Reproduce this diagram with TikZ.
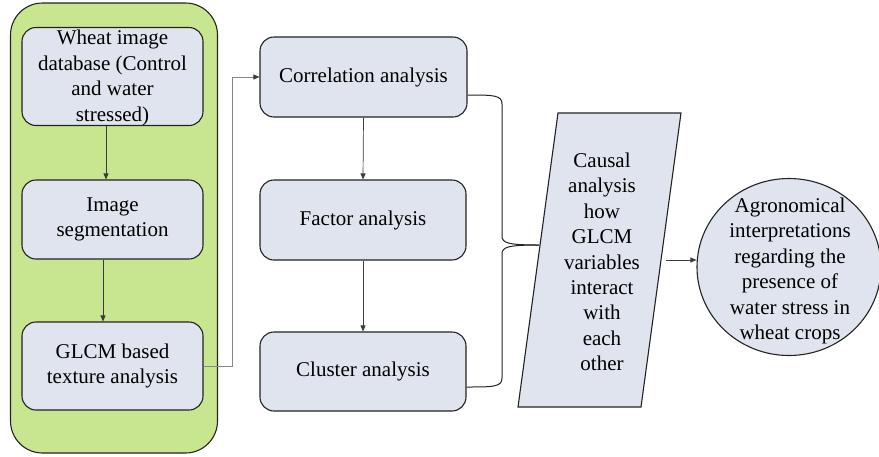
\documentclass[tikz,border=0pt]{standalone}
\usepackage{fontspec}
\setmainfont{Liberation Serif}
\usetikzlibrary{arrows.meta,shapes.geometric,calc}
\definecolor{panelgreen}{RGB}{200,230,143}
\definecolor{boxfill}{RGB}{224,228,238}
\definecolor{edge}{RGB}{35,35,35}
\definecolor{wire}{RGB}{60,60,60}
\definecolor{lightwire}{RGB}{135,135,135}
\begin{document}
\begin{tikzpicture}[x=1pt,y=-1pt,
  txt/.style={align=center, font=\fontsize{21}{25.4}\selectfont, inner sep=0pt},
  stepbox/.style={txt, draw=edge, line width=1.1pt, fill=boxfill, rounded corners=14pt,
                  minimum width=181pt},
  flow/.style={draw=wire, line width=0.7pt, -{Triangle[length=6pt,width=5pt,color=wire]}},
  bracket/.style={draw=edge, line width=1pt},
]
\useasboundingbox (0,0) rectangle (879,456);
\fill[white] (0,0) rectangle (879,456);

% green panel holding the image processing steps
\node[draw=edge, line width=1.1pt, fill=panelgreen, rounded corners=32pt,
      minimum width=207pt, minimum height=450pt, inner sep=0pt] (panel) at (114,228) {};

% image processing steps
\node[stepbox, minimum height=98pt] (db) at (112.5,76.5) {};
\node[txt] (dbtext) at (112.5,78) {Wheat image\\database (Control\\and water\\stressed)};
\node[stepbox, minimum height=79pt] (seg) at (112.5,219.5) {Image\\segmentation};
\node[stepbox, minimum height=88pt] (glcm) at (112.5,366) {GLCM based\\texture analysis};

% statistical analyses
\node[stepbox, minimum width=207pt, minimum height=80pt] (corr) at (363.5,77) {Correlation analysis};
\node[stepbox, minimum width=206pt, minimum height=80pt] (fact) at (363,220) {Factor analysis};
\node[stepbox, minimum width=206pt, minimum height=79pt] (clus) at (363,371.5) {Cluster analysis};

% causal analysis (parallelogram)
\coordinate (pTL) at (558,113);
\coordinate (pTR) at (681,113);
\coordinate (pBR) at (641,407);
\coordinate (pBL) at (518,407);
\filldraw[fill=boxfill, draw=edge, line width=1.1pt] (pTL) -- (pTR) -- (pBR) -- (pBL) -- cycle;
\node[txt] (causal) at (602,262) {Causal\\analysis\\how\\GLCM\\variables\\interact\\with\\each\\other};

% interpretation
\node[draw=edge, line width=1.1pt, fill=boxfill, ellipse, minimum width=184pt,
      minimum height=177pt, inner sep=0pt] (agro) at (789,267) {};
\node[txt] (agrotext) at (790,271) {Agronomical\\interpretations\\regarding the\\presence of\\water stress in\\wheat crops};

% connectors
\draw[flow] ([xshift=-6.5pt]db.south) -- ([xshift=-6.5pt]db.south |- seg.north);
\draw[flow] ([xshift=-9.5pt]seg.south) -- ([xshift=-9.5pt]seg.south |- glcm.north);
\draw[flow] (corr.south) -- (fact.north);
\draw[flow] (fact.south) -- (clus.north);
\draw[flow, draw=lightwire] (glcm.east) -| ([xshift=29pt]glcm.east |- corr.west) -- (corr.west);

% brace gathering the three analyses
\coordinate (tip) at (539,245);
\coordinate (btop) at ([yshift=-18pt]corr.east);
\coordinate (bbot) at ([yshift=-15.5pt]clus.east);
\draw[bracket] (btop) .. controls (493,95) and (502,95) .. (502,104) -- (502,236)
  .. controls (502,243) and (508,245) .. (tip);
\draw[bracket] (bbot) .. controls (493,387) and (502,387) .. (502,378) -- (502,254)
  .. controls (502,247) and (508,245) .. (tip);

\coordinate (pout) at (666,260);
\draw[flow] (pout) -- (agro.west |- pout);
\end{tikzpicture}
\end{document}
